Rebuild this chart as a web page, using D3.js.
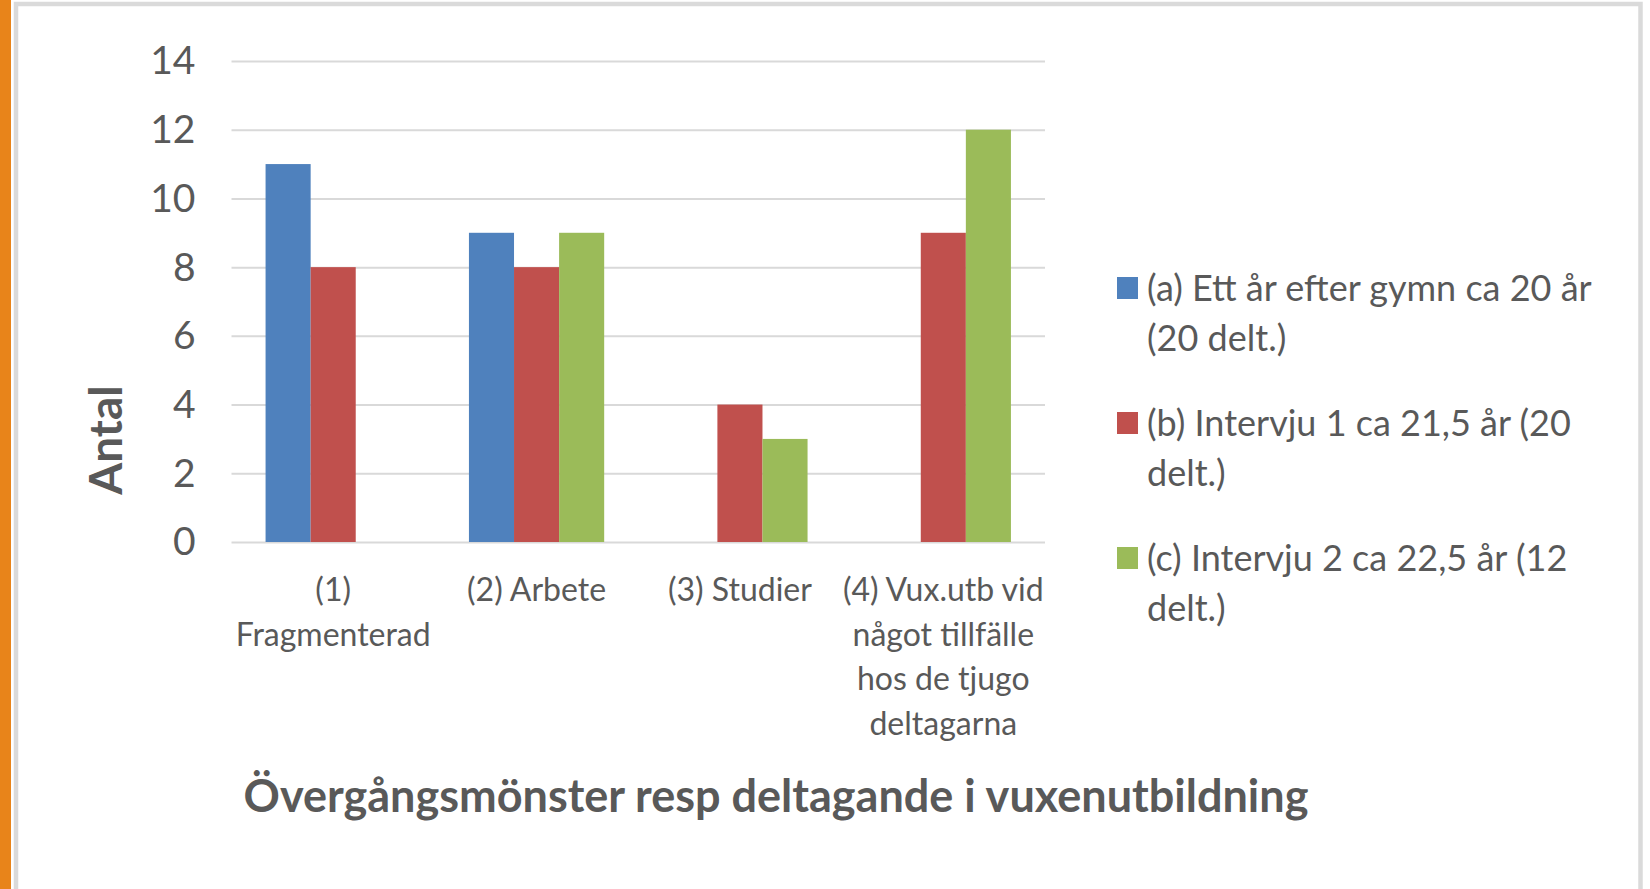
<!DOCTYPE html>
<html><head><meta charset="utf-8">
<script src="https://cdn.jsdelivr.net/npm/d3@7"></script>
<style>
html,body{margin:0;padding:0;background:#fff;}
svg{display:block;}
text{font-family:Lato,"Liberation Sans",sans-serif;fill:#595959;}
</style></head>
<body>
<svg id="chart" width="1650" height="889"></svg>
<script>
const categories = [["(1)","Fragmenterad"],["(2) Arbete"],["(3) Studier"],["(4) Vux.utb vid","något tillfälle","hos de tjugo","deltagarna"]];
const seriesNames = [["(a) Ett år efter gymn ca 20 år","(20 delt.)"],["(b) Intervju 1 ca 21,5 år (20","delt.)"],["(c) Intervju 2 ca 22,5 år (12","delt.)"]];
const seriesA = [11, 9, 0, 0];
const seriesB = [8, 8, 4, 9];
const seriesC = [0, 9, 3, 12];
const yTicks = [0, 2, 4, 6, 8, 10, 12, 14];
const colors = ["#4f81bd", "#c0504d", "#9bbb59"];
const yTitle = "Antal";
const xTitle = "Övergångsmönster resp deltagande i vuxenutbildning";

(function(){
const series = [seriesA, seriesB, seriesC];
const svg = d3.select("#chart");

// frame
svg.append("rect").attr("x",0).attr("y",0).attr("width",11).attr("height",889).attr("fill","#e8841a");
svg.append("rect").attr("x",16).attr("y",4).attr("width",1624.5).attr("height",900)
  .attr("fill","none").attr("stroke","#dadada").attr("stroke-width",4.5);

const pL = 231.5, pR = 1045, pT = 61, pB = 542;
const x0 = d3.scaleBand().domain(d3.range(categories.length)).range([pL, pR]).paddingInner(0.335).paddingOuter(0.1675);
const x1 = d3.scaleBand().domain(d3.range(series.length)).range([0, x0.bandwidth()]).padding(0);
const y = d3.scaleLinear().domain([0, 14]).range([pB, pT]);

// gridlines
const yAxis = d3.axisLeft(y).tickValues(yTicks).tickSize(-(pR-pL)).tickPadding(36).tickFormat(d3.format("d"));
const gy = svg.append("g").attr("transform",`translate(${pL},0)`).call(yAxis);
gy.select(".domain").remove();
gy.selectAll(".tick line").attr("stroke","#d9d9d9").attr("stroke-width",2);
gy.selectAll(".tick text").attr("font-size",39).attr("fill","#595959").attr("font-family","Lato").attr("dy","0.33em");

// bars
const g = svg.append("g");
categories.forEach((c, i) => {
  series.forEach((s, j) => {
    if (s[i] > 0) {
      g.append("rect")
        .attr("x", x0(i) + x1(j))
        .attr("y", y(s[i]))
        .attr("width", x1.bandwidth())
        .attr("height", y(0) - y(s[i]))
        .attr("fill", colors[j]);
    }
  });
});

// category labels
const xa = svg.append("g");
categories.forEach((lines, i) => {
  const t = xa.append("text").attr("text-anchor","middle").attr("font-size",32)
    .attr("x", x0(i) + x0.bandwidth()/2).attr("y", 601);
  lines.forEach((l, k) => {
    t.append("tspan").attr("x", x0(i) + x0.bandwidth()/2).attr("dy", k === 0 ? 0 : 44.5).text(l);
  });
});

// axis titles
svg.append("text").attr("transform","translate(122,440) rotate(-90)").attr("text-anchor","middle")
  .attr("font-size",46).attr("font-weight","bold").text(yTitle);
svg.append("text").attr("x",776).attr("y",812).attr("text-anchor","middle")
  .attr("font-size",45).attr("font-weight","bold").text(xTitle);

// legend
const lg = svg.append("g");
seriesNames.forEach((lines, j) => {
  const yy = 288 + j*135;
  lg.append("rect").attr("x",1117).attr("y",yy-11).attr("width",21).attr("height",22).attr("fill",colors[j]);
  const t = lg.append("text").attr("font-size",36).attr("x",1147).attr("y",yy);
  lines.forEach((l, k) => {
    t.append("tspan").attr("x",1147).attr("dy", k === 0 ? "0.36em" : 50).text(l);
  });
});
})();
</script>
</body></html>
